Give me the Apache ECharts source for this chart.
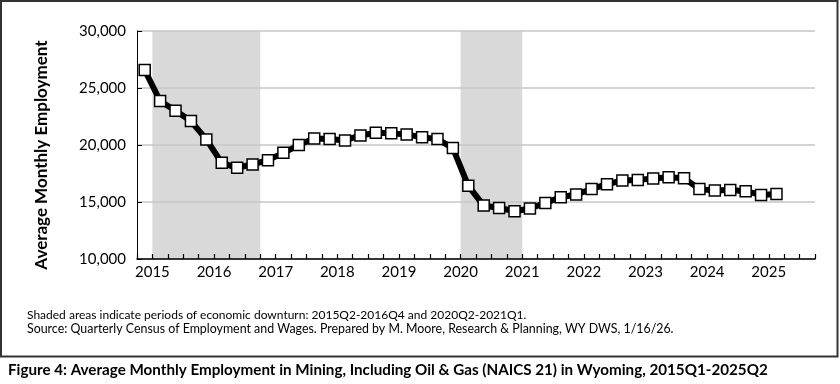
<!DOCTYPE html>
<html>
<head>
<meta charset="utf-8">
<script src="https://cdn.jsdelivr.net/npm/echarts@6/dist/echarts.min.js"></script>
<style>
html,body{margin:0;padding:0;background:#fff;}
#chart{width:840px;height:384px;}
</style>
</head>
<body>
<div id="chart"></div>
<script>
// Quarters shown on the axis (2015Q1 - 2025Q4)
const quarters = [];
for (let y = 2015; y <= 2025; y++) { for (let q = 1; q <= 4; q++) quarters.push(y + 'Q' + q); }

// Average monthly employment, 2015Q1 - 2025Q2
const employment = [
  26580, 23860, 23000, 22100,
  20490, 18440, 18000, 18300,
  18670, 19310, 19990, 20580,
  20520, 20400, 20840, 21070,
  21020, 20930, 20670, 20520,
  19730, 16420, 14690, 14480,
  14190, 14430, 14920, 15420,
  15660, 16130, 16560, 16890,
  16940, 17070, 17180, 17090,
  16130, 16010, 16060, 15950,
  15620, 15710
];

const yearLabels = ['2015','2016','2017','2018','2019','2020','2021','2022','2023','2024','2025'];
const yearLabelPositions = [1,5,9,13,17,21,25,29,33,37,41];

// Economic downturn periods [first quarter, last quarter]
const downturns = [['2015Q2','2016Q4'], ['2020Q2','2021Q1']];

const yTicks = { min: 10000, max: 30000, interval: 5000 };

const footnote1 = 'Shaded areas indicate periods of economic downturn: 2015Q2-2016Q4 and 2020Q2-2021Q1.';
const footnote2 = 'Source: Quarterly Census of Employment and Wages. Prepared by M. Moore, Research & Planning, WY DWS, 1/16/26.';
const caption = 'Figure 4: Average Monthly Employment in Mining, Including Oil & Gas (NAICS 21) in Wyoming, 2015Q1-2025Q2';

const FONT = 'Lato, "Open Sans", sans-serif';
const downturnData = downturns.map(d => [quarters.indexOf(d[0]), quarters.indexOf(d[1]) + 1]);

const chart = echarts.init(document.getElementById('chart'), null, { renderer: 'canvas' });
chart.setOption({
  animation: false,
  backgroundColor: '#fff',
  textStyle: { fontFamily: FONT },
  grid: { left: 137, right: 25, top: 31, bottom: 125, containLabel: false },
  xAxis: [
    {
      type: 'category',
      data: quarters,
      boundaryGap: true,
      axisLine: { show: true, lineStyle: { color: '#000', width: 1.5 } },
      axisTick: { show: true, interval: 0, inside: true, length: 5, lineStyle: { color: '#000', width: 1.2 } },
      axisLabel: { show: false },
      splitLine: { show: false }
    },
    {
      type: 'value',
      min: 0, max: quarters.length,
      position: 'bottom',
      axisLine: { show: false },
      axisTick: { show: false },
      splitLine: { show: false },
      axisLabel: {
        show: true,
        customValues: yearLabelPositions,
        formatter: v => yearLabels[yearLabelPositions.indexOf(v)] || '',
        color: '#000', fontSize: 15, fontFamily: FONT, margin: 6
      }
    }
  ],
  yAxis: {
    type: 'value',
    min: yTicks.min, max: yTicks.max, interval: yTicks.interval,
    name: 'Average Monthly Employment',
    nameLocation: 'middle',
    nameGap: 87,
    nameTextStyle: { color: '#000', fontSize: 17, fontWeight: 'bold', fontFamily: FONT, padding: [0, 20, 0, 0] },
    axisLine: { show: true, lineStyle: { color: '#000', width: 1 } },
    axisTick: { show: true, inside: true, length: 5, lineStyle: { color: '#000' } },
    axisLabel: { color: '#000', fontSize: 15, fontFamily: FONT, margin: 11, formatter: v => v.toLocaleString('en-US') },
    splitLine: { show: true, lineStyle: { color: '#c6c6c6', width: 1.5 } }
  },
  series: [
    {
      type: 'custom',
      xAxisIndex: 1,
      yAxisIndex: 0,
      z: -1,
      silent: true,
      data: downturnData,
      encode: { x: [0, 1] },
      renderItem: (params, api) => {
        const p0 = api.coord([api.value(0), yTicks.max]);
        const p1 = api.coord([api.value(1), yTicks.min]);
        return { type: 'rect', shape: { x: p0[0], y: p0[1], width: p1[0] - p0[0], height: p1[1] - p0[1] }, style: { fill: '#d9d9d9' } };
      }
    },
    {
      type: 'line',
      xAxisIndex: 0,
      data: employment,
      symbol: 'rect',
      symbolSize: 11,
      showSymbol: true,
      showAllSymbol: true,
      lineStyle: { color: '#000', width: 6 },
      itemStyle: { color: '#fff', borderColor: '#000', borderWidth: 1.5 },
      z: 3
    }
  ],
  graphic: [
    { type: 'rect', shape: { x: 1, y: 1, width: 836.5, height: 355.5 }, style: { fill: 'none', stroke: '#333', lineWidth: 2 }, silent: true },
    { type: 'text', left: 27, top: 309, style: { text: footnote1, font: '12px ' + FONT, fill: '#000' } },
    { type: 'text', left: 27, top: 322.5, style: { text: footnote2, font: '12.4px ' + FONT, fill: '#000' } },
    { type: 'text', left: 8, top: 363, style: { text: caption, font: 'bold 15.2px ' + FONT, fill: '#000' } }
  ]
});
</script>
</body>
</html>
